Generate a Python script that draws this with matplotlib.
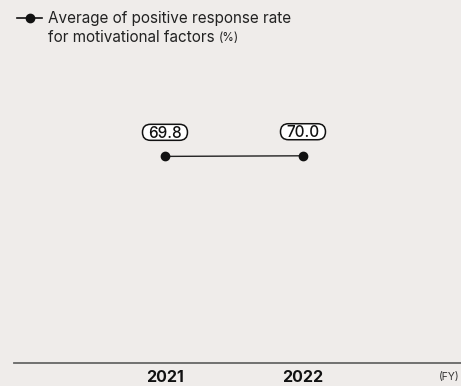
import matplotlib
matplotlib.use("Agg")
import matplotlib.pyplot as plt
from matplotlib.lines import Line2D
from matplotlib.patches import FancyBboxPatch
from matplotlib.transforms import IdentityTransform

years = ["2021", "2022"]
values = [69.8, 70.0]
legend_line1 = "Average of positive response rate"
legend_line2 = "for motivational factors "
legend_unit = "(%)"

bg = "#EFECEA"
plt.rcParams['font.family'] = ['Inter', 'DejaVu Sans']

W, H = 461, 386
fig = plt.figure(figsize=(W/100, H/100), dpi=100, facecolor=bg)
ax = fig.add_axes([14/W, 23/H, 447/W, 296/H])
ax.set_facecolor(bg)

x = list(range(len(years)))
ax.plot(x, values, color="#222222", lw=1.0, marker="o", ms=6, mfc="#111111", mec="#111111")
labels = []
for xi, v in zip(x, values):
    a = ax.annotate(f"{v:.1f}", (xi, v), xytext=(0, 13.3), textcoords="offset points",
                    ha="center", va="baseline", fontsize=11, fontweight="medium",
                    color="#111111", zorder=6)
    labels.append(a)

ax.set_xlim(-1.094, 2.145)
ax.set_ylim(0, 100)
ax.set_xticks(x)
ax.set_xticklabels(years, fontsize=11.5, fontweight="bold", color="#111111")
ax.tick_params(axis="x", length=0, pad=5)
ax.set_yticks([])
for s in ["top", "right", "left"]:
    ax.spines[s].set_visible(False)
ax.spines["bottom"].set_color("#666666")
ax.spines["bottom"].set_linewidth(1.3)

fig.text(459/W, 1 - 377/H, "(FY)", fontsize=7.5, color="#333333", ha="right", va="center")

# legend
fig.add_artist(Line2D([17/W, 42/W], [1 - 18/H, 1 - 18/H], color="#111111", lw=1.2,
                      transform=fig.transFigure))
fig.add_artist(Line2D([30/W], [1 - 18/H], color="#111111", marker="o", ms=6,
                      transform=fig.transFigure))
fig.text(48/W, 1 - 19/H, legend_line1, fontsize=11, color="#222222",
         ha="left", va="center")
t = fig.text(48/W, 1 - 38/H, legend_line2, fontsize=11, color="#222222",
             ha="left", va="center")
fig.canvas.draw()
bb = t.get_window_extent()
fig.text(bb.x1 / W, 1 - 38/H, legend_unit, fontsize=8.5, color="#222222", ha="left", va="center")

# rounded boxes around value labels (display coords, drawn under the text)
renderer = fig.canvas.get_renderer()
for a in labels:
    e = a.get_window_extent(renderer)
    cx = (e.x0 + e.x1) / 2
    base_y = ax.transData.transform(a.xy)[1] + 13.3 * 100 / 72
    cy = base_y + 5.6
    bw, bh = 45, 16
    p = FancyBboxPatch((cx - bw/2, cy - bh/2), bw, bh,
                       boxstyle="round,pad=0,rounding_size=8",
                       transform=IdentityTransform(), fc="white", ec="#111111", lw=1.1,
                       zorder=5, clip_on=False)
    ax.add_artist(p)

fig.savefig("out.png", dpi=100, facecolor=bg)
